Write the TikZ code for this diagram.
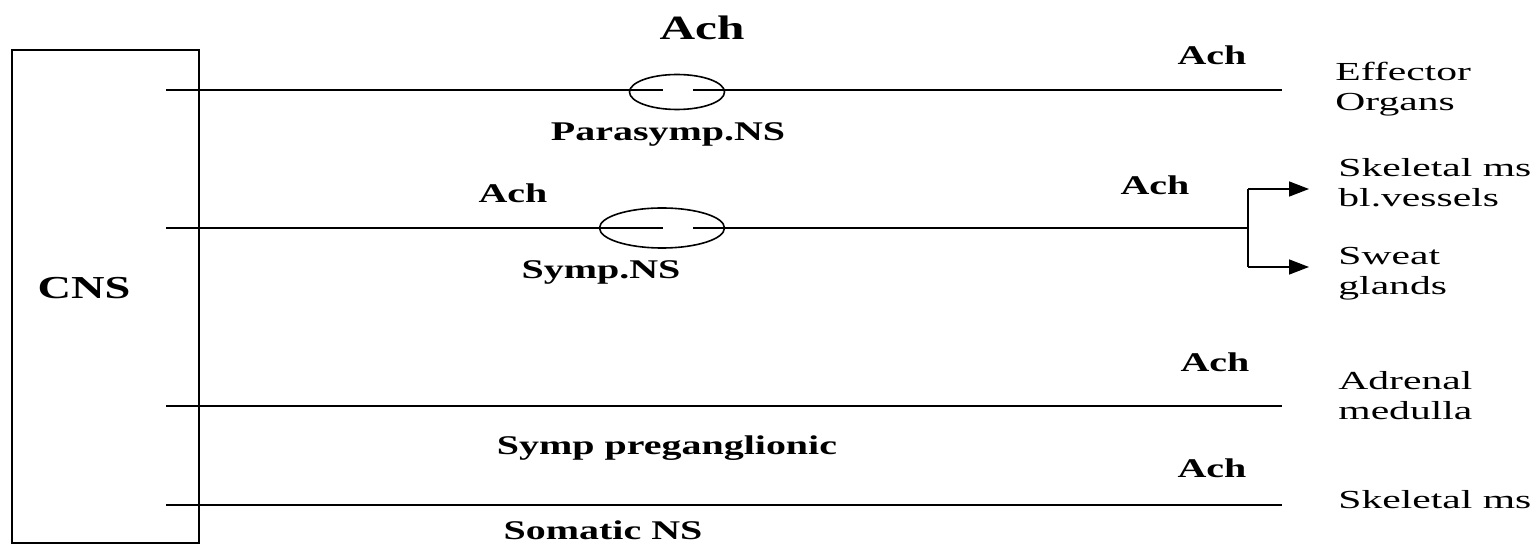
\documentclass[tikz,border=0pt]{standalone}
\usepackage{fontspec}
\setmainfont{Liberation Serif}
\newfontfamily\regf[FakeStretch=1.6]{Liberation Serif}
\newfontfamily\boldf[FakeStretch=1.48]{Liberation Serif}
\newfontfamily\bigf[FakeStretch=1.45]{Liberation Serif}
\usetikzlibrary{shapes.geometric,arrows.meta}
\tikzset{
  nerve/.style={line width=0.8pt},
  ganglion/.style={draw, ellipse, line width=0.8pt, inner sep=0pt},
  cnsbox/.style={draw, line width=1pt, inner sep=0pt},
  blbl/.style={inner sep=0pt, font=\boldf\bfseries\fontsize{13.5}{15}\selectfont},
  rlbl/.style={inner sep=0pt, anchor=west, align=left, font=\regf\fontsize{13}{15}\selectfont},
  biglbl/.style={inner sep=0pt, font=\bigf\bfseries\fontsize{17}{18}\selectfont},
  tip/.style={-{Triangle[length=10pt,width=7.5pt]}, line width=0.8pt},
}
\begin{document}
\begin{tikzpicture}[x=0.5pt,y=-0.5pt]
\useasboundingbox (0,0) rectangle (1538,545);

% central nervous system block
\node[cnsbox, minimum width=93.5pt, minimum height=246.5pt] (cns) at (105.5,296.5) {};
\node[biglbl, font=\bigf\bfseries\fontsize{16}{18}\selectfont] (cnslbl) at (84,288) {CNS};

% parasympathetic pathway
\coordinate (p1) at (166,90);
\coordinate (g1a) at (663,90);
\coordinate (g1b) at (693,90);
\coordinate (t1) at (1282,90);
\node[ganglion, minimum width=47.5pt, minimum height=17.5pt] (g1) at (677,92) {};
\draw[nerve] (p1) -- (g1a);
\draw[nerve] (g1b) -- (t1);
\node[biglbl] (ach0) at (702,28) {Ach};
\node[blbl] (ach1) at (1212,55) {Ach};
\node[blbl] (para) at (668,134) {Parasymp.NS};
\node[rlbl] (eff) at (1335,89) {Effector\\Organs};

% sympathetic pathway
\coordinate (p2) at (166,228);
\coordinate (g2a) at (663,228);
\coordinate (g2b) at (693,228);
\coordinate (br) at (1248,228);
\coordinate (brt) at (1248,189);
\coordinate (brb) at (1248,267);
\coordinate (a1) at (1309,189);
\coordinate (a2) at (1309,267);
\node[ganglion, minimum width=62.5pt, minimum height=20pt] (g2) at (662,228) {};
\draw[nerve] (p2) -- (g2a);
\draw[nerve] (g2b) -- (br);
\draw[nerve] (brt) -- (brb);
\draw[tip] (brt) -- (a1);
\draw[tip] (brb) -- (a2);
\node[blbl] (ach2) at (513,193) {Ach};
\node[blbl] (ach3) at (1155,185) {Ach};
\node[blbl] (symp) at (601,272) {Symp.NS};
\node[rlbl] (skel1) at (1338,183) {Skeletal ms\\bl.vessels};
\node[rlbl] (sweat) at (1338,274) {Sweat\\glands};

% sympathetic preganglionic to adrenal medulla
\coordinate (p3) at (166,406);
\coordinate (t3) at (1282,406);
\draw[nerve] (p3) -- (t3);
\node[blbl] (ach4) at (1215,362) {Ach};
\node[rlbl] (adr) at (1338,396) {Adrenal\\medulla};
\node[blbl] (pre) at (667,448) {Symp preganglionic};

% somatic pathway
\coordinate (p4) at (166,505);
\coordinate (t4) at (1282,505);
\draw[nerve] (p4) -- (t4);
\node[blbl] (ach5) at (1212,468) {Ach};
\node[rlbl] (skel2) at (1338,500) {Skeletal ms};
\node[blbl] (som) at (603,530) {Somatic NS};
\end{tikzpicture}
\end{document}
